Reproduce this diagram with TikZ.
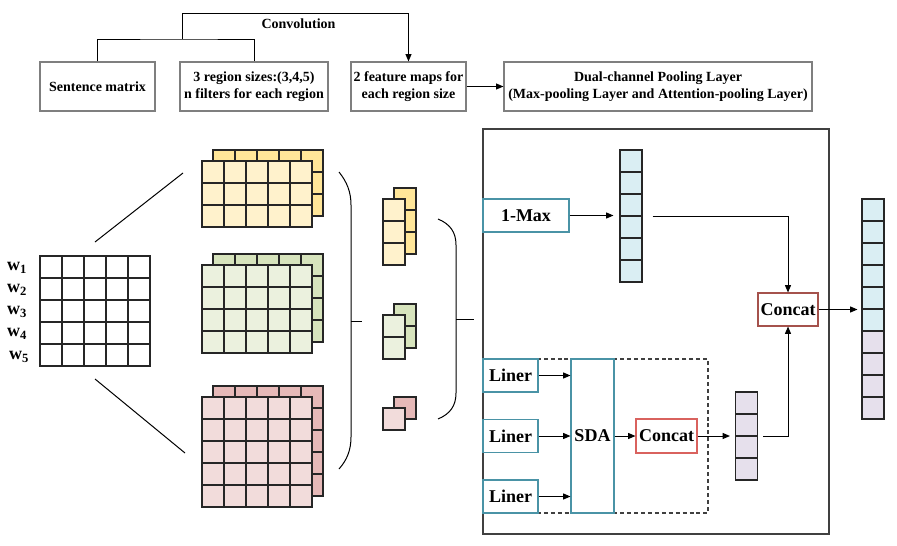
\documentclass[tikz,border=0pt]{standalone}
\usepackage{fontspec}
\setmainfont{Liberation Serif}
\usetikzlibrary{arrows.meta,calc}
\definecolor{boxgray}{HTML}{7F7F7F}
\definecolor{darkframe}{HTML}{404040}
\definecolor{tealc}{HTML}{4A93A6}
\definecolor{credA}{HTML}{A5524C}
\definecolor{credB}{HTML}{D9625E}
\definecolor{ylwB}{HTML}{FFE699}
\definecolor{ylwF}{HTML}{FFF2CC}
\definecolor{grnB}{HTML}{D7E4BD}
\definecolor{grnF}{HTML}{EBF1DE}
\definecolor{pnkB}{HTML}{E6B9B8}
\definecolor{pnkF}{HTML}{F2DCDB}
\definecolor{bluC}{HTML}{DAEEF3}
\definecolor{lavC}{HTML}{E6E0EC}
\newcommand{\cellgrid}[5]{%
  \foreach \ci in {1,...,#3}{\foreach \cj in {1,...,#4}{%
    \draw[cellline, fill=#5] ({#1+22*(\ci-1)},{#2+22*(\cj-1)}) rectangle ++(22,22);}}}
\newcommand{\fmap}[6]{%
  \cellgrid{#1+11}{#2-11}{#3}{#4}{#5}%
  \cellgrid{#1}{#2}{#3}{#4}{#6}}
\begin{document}
\begin{tikzpicture}[x=0.75pt,y=-0.75pt,
  cellline/.style={draw=black!85, line width=0.8pt},
  topbox/.style={draw=boxgray, line width=0.9pt, minimum height={49*0.75pt}, inner sep=0pt,
    align=center, font=\fontsize{10.5}{12.5}\selectfont\bfseries},
  lbl/.style={font=\fontsize{10.5}{12.5}\selectfont\bfseries, inner sep=0pt},
  wl/.style={font=\fontsize{13.5}{15}\selectfont\bfseries, inner sep=0pt},
  conn/.style={draw=black, line width=0.75pt},
  arr/.style={conn, -{Triangle[length=5.5pt,width=4.5pt]}},
  bigtxt/.style={font=\fontsize{13.5}{16}\selectfont\bfseries, inner sep=0pt},
  tealbox/.style={bigtxt, draw=tealc, line width=0.8pt, fill=white},
  brace/.style={draw=black, line width=0.75pt}]
\useasboundingbox (0,0) rectangle (897,546);

% ---- top row ----
\node[topbox, minimum width={115*0.75pt}] (sm) at (97.5,86.5) {Sentence matrix};
\node[topbox, minimum width={148*0.75pt}] (rs) at (254,86.5) {3 region sizes:(3,4,5)\\n filters for each region};
\node[topbox, minimum width={115*0.75pt}] (fm) at (408.5,86.5) {2 feature maps for\\each region size};
\node[topbox, minimum width={308*0.75pt}] (dc) at (658,86.5) {Dual-channel Pooling Layer\\(Max-pooling Layer and Attention-pooling Layer)};
\coordinate (cj) at (182,39);
\coordinate (ctop) at (182,13);
\draw[conn] (sm.north) |- (cj) -| (rs.north);
\draw[arr] (cj) -- (ctop) -| (fm.north);
\node[lbl] (conv) at (298.5,24) {Convolution};
\draw[arr] (fm) -- (dc);

% ---- sentence matrix ----
\cellgrid{40}{256}{5}{5}{white}
\node[wl] (w1) at (17,268) {w\textsubscript{1}};
\node[wl] (w2) at (17,290) {w\textsubscript{2}};
\node[wl] (w3) at (17,312) {w\textsubscript{3}};
\node[wl] (w4) at (17,334) {w\textsubscript{4}};
\node[wl] (w5) at (19,357) {w\textsubscript{5}};
\coordinate (la1) at (95,242); \coordinate (la2) at (183,173);
\coordinate (lb1) at (95,379); \coordinate (lb2) at (185,453);
\draw[conn] (la1) -- (la2);
\draw[conn] (lb1) -- (lb2);

% ---- feature maps ----
\fmap{202}{161}{5}{3}{ylwB}{ylwF}
\fmap{202}{265}{5}{4}{grnB}{grnF}
\fmap{202}{397}{5}{5}{pnkB}{pnkF}

% ---- big brace ----
\draw[brace] (339,172) .. controls (347,182) and (351,192) .. (351,205) -- (351,437)
  .. controls (351,450) and (347,460) .. (339,469);
\draw[brace] (351,321) -- (362,321);

% ---- small maps ----
\fmap{383}{199}{1}{3}{ylwB}{ylwF}
\fmap{383}{315}{1}{2}{grnB}{grnF}
\fmap{383}{408}{1}{1}{pnkB}{pnkF}

% ---- second brace ----
\draw[brace] (438,219) .. controls (450,224) and (456,232) .. (456,245) -- (456,393)
  .. controls (456,406) and (450,414) .. (438,419);
\draw[brace] (456,319) -- (474,319);

% ---- pooling frame ----
\draw[draw=darkframe, line width=0.9pt] (483,129) rectangle (829,534);
\draw[draw=darkframe, line width=0.9pt, dash pattern=on 3pt off 2.2pt] (483,359) rectangle (708,513);

% 1-Max branch
\node[tealbox, minimum width={86*0.75pt}, minimum height={33*0.75pt}] (max) at (526,215.5) {1-Max};
\node[draw=black!85, line width=0.8pt, fill=bluC, minimum width={22*0.75pt}, minimum height={132*0.75pt}, inner sep=0pt] (bvec) at (631,216) {};
\foreach \k in {1,...,5}{\draw[cellline] (620,{150+22*\k}) -- (642,{150+22*\k});}
\node[bigtxt, draw=credA, line width=0.8pt, fill=white, minimum width={60*0.75pt}, minimum height={33*0.75pt}] (cc1) at (788,309.5) {Concat};
\draw[arr, shorten >=4.5pt] (max.east) -- (bvec.west |- max.east);
\draw[arr, shorten <=7.5pt] (bvec.east |- 0,216) -| (cc1.north);

% output vector
\fill[bluC] (862,199) rectangle (884,331);
\fill[lavC] (862,331) rectangle (884,419);
\node[draw=black!85, line width=0.8pt, minimum width={22*0.75pt}, minimum height={220*0.75pt}, inner sep=0pt] (ovec) at (873,309) {};
\foreach \k in {1,...,9}{\draw[cellline] (862,{199+22*\k}) -- (884,{199+22*\k});}
\draw[arr, shorten >=3pt] (cc1.east) -- (ovec.west |- cc1.east);

% attention branch
\node[tealbox, minimum width={55*0.75pt}, minimum height={33*0.75pt}] (li1) at (510.5,375.5) {Liner};
\node[tealbox, minimum width={55*0.75pt}, minimum height={33*0.75pt}] (li2) at (510.5,436) {Liner};
\node[tealbox, minimum width={55*0.75pt}, minimum height={33*0.75pt}] (li3) at (510.5,496.5) {Liner};
\node[tealbox, minimum width={43*0.75pt}, minimum height={154*0.75pt}] (sda) at (592.5,436) {SDA};
\draw[arr] (li1.east) -- (sda.west |- li1.east);
\draw[arr] (li2.east) -- (sda.west |- li2.east);
\draw[arr] (li3.east) -- (sda.west |- li3.east);
\node[bigtxt, draw=credB, line width=0.8pt, fill=white, minimum width={61*0.75pt}, minimum height={34*0.75pt}] (cc2) at (666.5,436) {Concat};
\draw[arr] (sda.east |- cc2.west) -- (cc2.west);
\node[draw=black!85, line width=0.8pt, fill=lavC, minimum width={22*0.75pt}, minimum height={88*0.75pt}, inner sep=0pt] (lvec) at (746.5,436) {};
\foreach \k in {1,...,3}{\draw[cellline] (735.5,{392+22*\k}) -- (757.5,{392+22*\k});}
\draw[arr, shorten >=3.75pt] (cc2.east) -- (lvec.west);
\draw[arr, shorten <=3.75pt] (lvec.east) -| (cc1.south);
\end{tikzpicture}
\end{document}
